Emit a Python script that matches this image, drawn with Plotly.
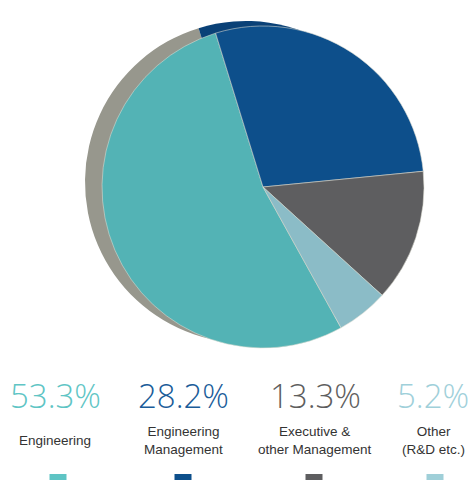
import plotly.graph_objects as go

categories = ["Engineering", "Engineering Management", "Executive & other Management", "Other (R&D etc.)"]
values = [53.3, 28.2, 13.3, 5.2]
pct_labels = ["53.3%", "28.2%", "13.3%", "5.2%"]
cat_labels = ["Engineering", "Engineering<br>Management", "Executive &<br>other Management", "Other<br>(R&D etc.)"]

slice_colors = ["#53b3b5", "#0d4f8b", "#5e5e60", "#8bbcc7"]
shadow_colors = ["#97978d", "#0a4177", "#97978d", "#97978d"]
text_colors = ["#5fc5c5", "#1a5c99", "#5e5e5e", "#9fd0da"]
swatch_colors = ["#5ec4c4", "#0d4f8b", "#5e5e60", "#9fcfd8"]

W, H = 469, 480
R = 161
cx, cy = 263, 187
sx, sy = 246, 182

def dom(cxp, cyp):
    return dict(x=[(cxp - R) / W, (cxp + R) / W],
                y=[(H - cyp - R) / H, (H - cyp + R) / H])

fig = go.Figure()
fig.add_trace(go.Pie(
    labels=categories, values=values, sort=False, direction="clockwise",
    rotation=151, marker=dict(colors=shadow_colors, line=dict(width=0)),
    textinfo="none", hoverinfo="skip", showlegend=False, domain=dom(sx, sy),
))
fig.add_trace(go.Pie(
    labels=categories, values=values, sort=False, direction="clockwise",
    rotation=151, marker=dict(colors=slice_colors, line=dict(color="rgba(220,220,210,0.8)", width=0.7)),
    textinfo="none", hoverinfo="label+percent", showlegend=False, domain=dom(cx, cy),
))

xcenters = [55, 183, 315, 433]
annotations = []
for i in range(4):
    annotations.append(dict(
        x=xcenters[i] / W, y=(H - 395) / H, xref="paper", yref="paper",
        text=pct_labels[i], showarrow=False, xanchor="center", yanchor="middle",
        font=dict(family="Open Sans", size=33, color=text_colors[i], weight=300),
    ))
    annotations.append(dict(
        x=xcenters[i] / W, y=(H - 440) / H, xref="paper", yref="paper",
        text=cat_labels[i], showarrow=False, xanchor="center", yanchor="middle",
        font=dict(family="Liberation Sans", size=13.5, color="#333333"),
    ))

shapes = []
sw_x = [58, 183, 314, 435]
for i in range(4):
    shapes.append(dict(
        type="rect", xref="paper", yref="paper",
        x0=(sw_x[i] - 8.5) / W, x1=(sw_x[i] + 8.5) / W,
        y0=-0.02, y1=(H - 474) / H,
        fillcolor=swatch_colors[i], line=dict(width=0),
    ))

fig.update_layout(
    width=W, height=H, margin=dict(l=0, r=0, t=0, b=0),
    paper_bgcolor="white", plot_bgcolor="white",
    annotations=annotations, shapes=shapes,
)
fig.write_html("out.html", config={"displayModeBar": False})
